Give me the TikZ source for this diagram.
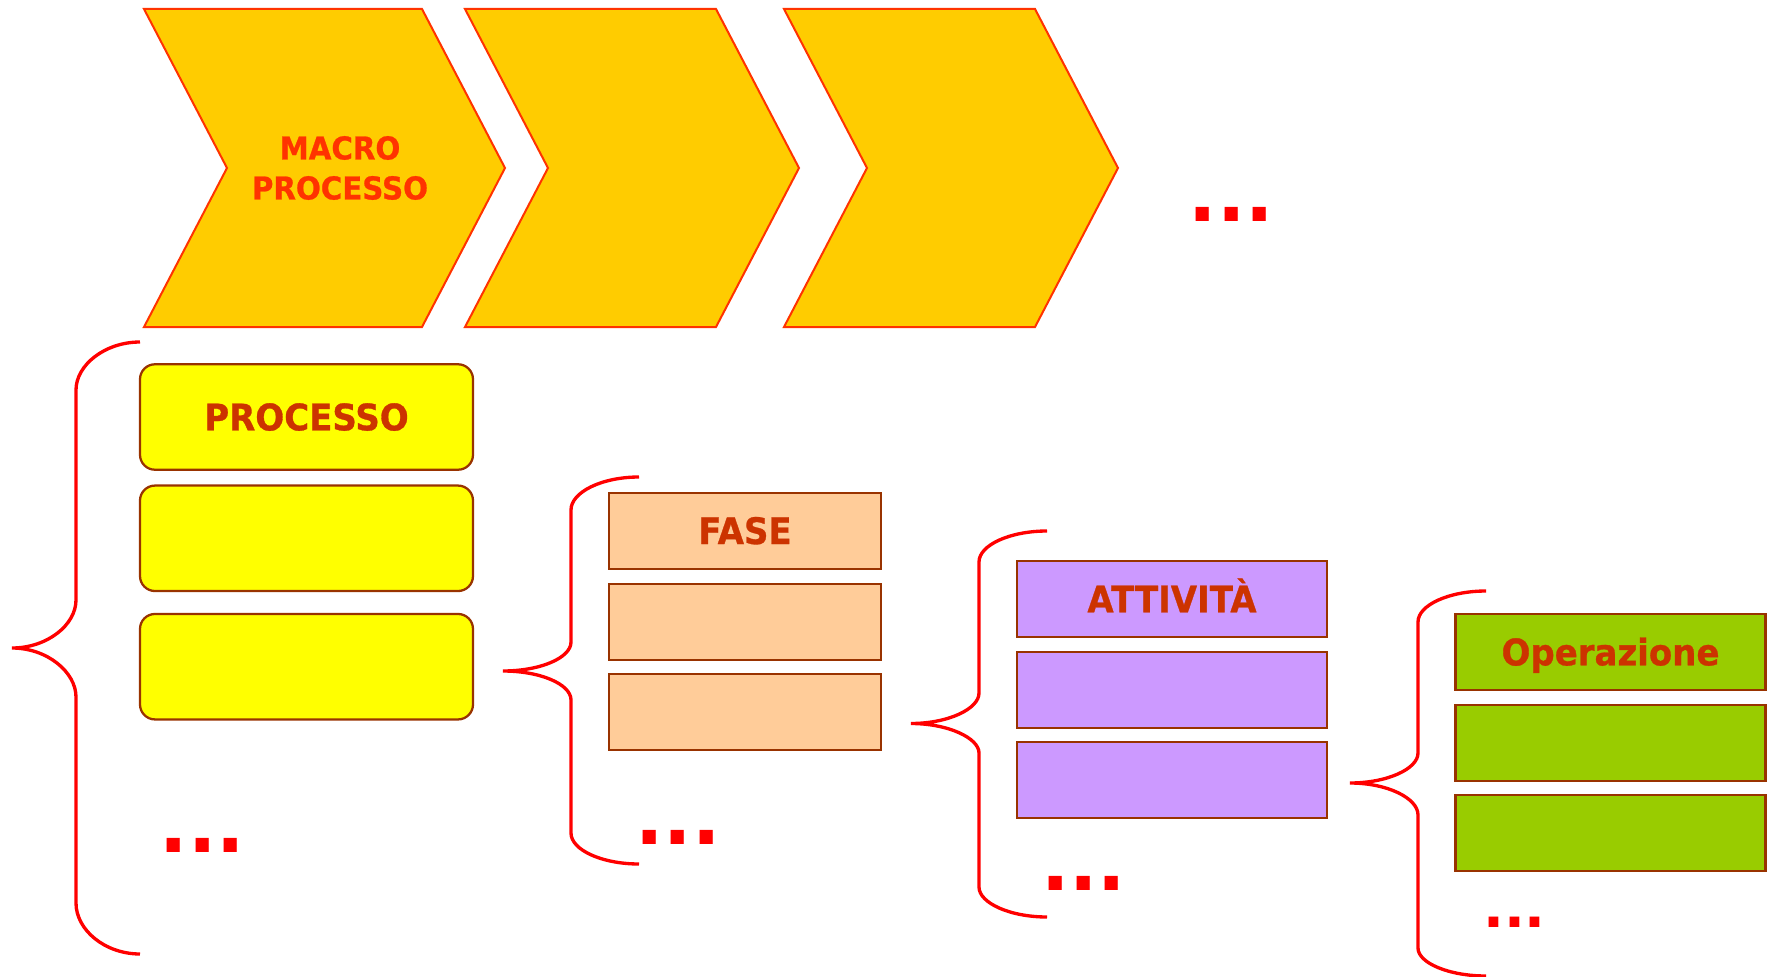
\documentclass[tikz,border=0pt]{standalone}
\usepackage{fontspec}
\newfontfamily\labfont[FakeStretch=0.93,FakeBold=0.8]{DejaVu Sans}
\newfontfamily\dotfont{DejaVu Sans}

\definecolor{chevfill}{RGB}{255,204,0}
\definecolor{chevline}{RGB}{255,51,0}
\definecolor{boxline}{RGB}{153,51,0}
\definecolor{labtxt}{RGB}{204,51,0}
\definecolor{procfill}{RGB}{255,255,0}
\definecolor{fasefill}{RGB}{255,204,153}
\definecolor{attfill}{RGB}{204,153,255}
\definecolor{opfill}{RGB}{153,204,0}

\begin{document}
\begin{tikzpicture}[x=0.75pt,y=0.75pt,yscale=-1,xscale=1,
	chevron/.style={draw=chevline,fill=chevfill,line width=1.5pt},
	macrolab/.style={inner sep=0pt,align=center,text=chevline,font={\labfont\bfseries\fontsize{23.6}{30}\selectfont}},
	lab/.style={draw=boxline,line width=1.7pt,inner sep=0pt,text=labtxt,font={\labfont\bfseries\fontsize{27.4}{30}\selectfont},text height=20pt,text depth=0pt},
	procbox/.style={lab,fill=procfill,rounded corners=11.25pt,minimum width=249.75pt,minimum height=79.1pt},
	fasebox/.style={lab,fill=fasefill,minimum width=204pt,minimum height=57pt},
	attbox/.style={lab,fill=attfill,minimum width=232.9pt,minimum height=57pt},
	opbox/.style={lab,fill=opfill,minimum width=232.5pt,minimum height=57pt},
	brace/.style={draw=red,line width=2.5pt},
	dots/.style={inner sep=0pt,anchor=base,text=red,font={\dotfont\bfseries\fontsize{56}{60}\selectfont}},
	smalldots/.style={dots,font={\dotfont\bfseries\fontsize{41.3}{45}\selectfont}}]
	\useasboundingbox (0,0) rectangle (1767,977);
	% macro processi
	\draw [chevron] (144,9) -- (422,9) -- (505,168) -- (422,327) -- (144,327) -- (227,168) -- cycle ;
	\draw [chevron] (465,9) -- (716,9) -- (799,168) -- (716,327) -- (465,327) -- (548,168) -- cycle ;
	\draw [chevron] (784,9) -- (1035,9) -- (1118,168) -- (1035,327) -- (784,327) -- (867,168) -- cycle ;
	\node [macrolab] (macro) at (340,168) {MACRO\\PROCESSO};
	\node [dots] (dotsmacro) at (1231.5,221) {...};
	% processi
	\draw [brace] (140,342) .. controls (105,342) and (76,365) .. (76,390) -- (76,600) .. controls (76,625) and (47,648) .. (12,648) .. controls (47,648) and (76,672) .. (76,697) -- (76,903) .. controls (76,930) and (105,954) .. (140,954) ;
	\node [procbox] (proc1) at (306.5,417) {PROCESSO};
	\node [procbox] (proc2) at (306.5,538.3) {};
	\node [procbox] (proc3) at (306.5,666.7) {};
	\node [dots] (dotsproc) at (202.2,852.3) {...};
	% fasi
	\draw [brace] (639,477) .. controls (602,477) and (571,492) .. (571,510) -- (571,642) .. controls (571,658) and (540,671) .. (503,671) .. controls (540,671) and (571,684) .. (571,700) -- (571,833) .. controls (571,850) and (602,864) .. (639,864) ;
	\node [fasebox] (fase1) at (745,530.7) {FASE};
	\node [fasebox] (fase2) at (745,622) {};
	\node [fasebox] (fase3) at (745,712.2) {};
	\node [dots] (dotsfase) at (678,844) {...};
	% attivita
	\draw [brace] (1047,531) .. controls (1010,531) and (979,545) .. (979,562) -- (979,693) .. controls (979,709) and (948,723.5) .. (911,723.5) .. controls (948,723.5) and (979,738) .. (979,753) -- (979,887) .. controls (979,903) and (1010,917) .. (1047,917) ;
	\node [attbox] (att1) at (1172,599) {ATTIVITÀ};
	\node [attbox] (att2) at (1172,689.7) {};
	\node [attbox] (att3) at (1172,780.3) {};
	\node [dots] (dotsatt) at (1083.7,890) {...};
	% operazioni
	\draw [brace] (1486,591) .. controls (1449,591) and (1418,605) .. (1418,622) -- (1418,753) .. controls (1418,769) and (1387,783) .. (1350,783) .. controls (1387,783) and (1418,798) .. (1418,815) -- (1418,948) .. controls (1418,963) and (1449,976) .. (1486,976) ;
	\node [opbox] (op1) at (1610.5,652) {Operazione};
	\node [opbox] (op2) at (1610.5,742.7) {};
	\node [opbox] (op3) at (1610.5,833.3) {};
	\node [smalldots] (dotsop) at (1514.5,927.3) {...};
\end{tikzpicture}
\end{document}
